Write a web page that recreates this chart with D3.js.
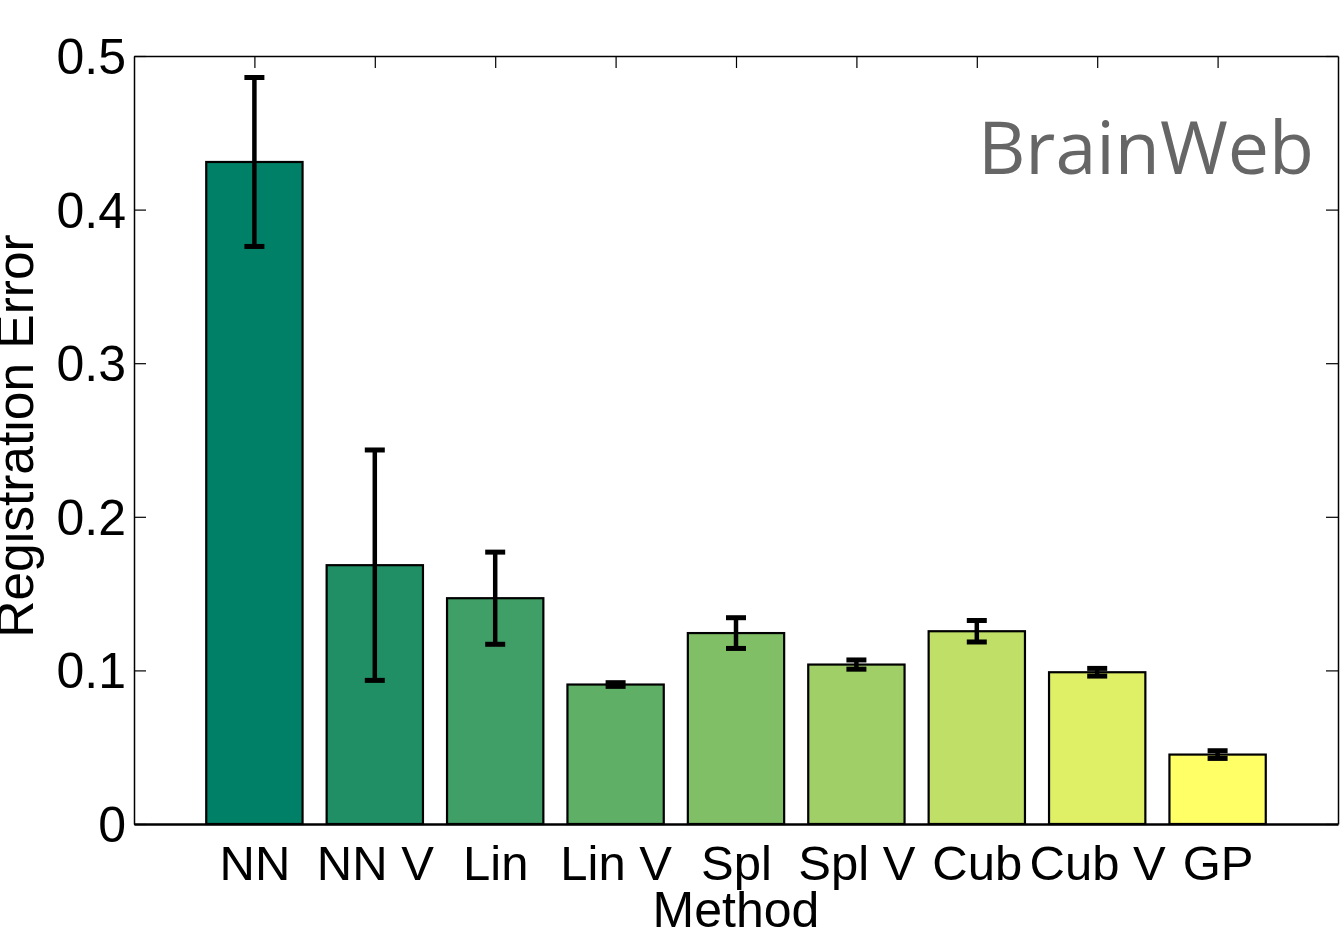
<!DOCTYPE html>
<html>
<head>
    <script src="https://d3js.org/d3.v7.min.js"></script>
    <style>
        body { margin: 0; background: #fff; }
        text { font-family: "Liberation Sans", Arial, sans-serif; }
    </style>
</head>
<body>
    <svg width="1342" height="928"></svg>
    <script>
    // data
    var methods = ["NN", "NN V", "Lin", "Lin V", "Spl", "Spl V", "Cub", "Cub V", "GP"];
    var errors  = [0.431, 0.1685, 0.147, 0.0908, 0.1243, 0.1038, 0.1255, 0.0988, 0.0452];
    var spread  = [0.055, 0.075, 0.030, 0.0012, 0.010, 0.003, 0.007, 0.0025, 0.0025];
    var yTicks  = [0, 0.1, 0.2, 0.3, 0.4, 0.5];

    var svg = d3.select("svg");
    // plot box (note: "top" is reserved on window, so use pl/pr/pt/pb)
    var pl = 134, pr = 1338, pt = 56, pb = 824;

    var x = d3.scaleLinear().domain([0, methods.length + 1]).range([pl, pr]);
    var y = d3.scaleLinear().domain([0, 0.5]).range([pb, pt]);
    // matlab summer colormap
    var color = function(i){
        var t = i / (methods.length - 1);
        return d3.rgb(255 * t, 255 * (0.5 + t / 2), 102);
    };
    var barW = x(0.8) - x(0);

    // axes box with inward ticks
    var gx = svg.append("g").attr("transform", "translate(0," + pb + ")")
        .call(d3.axisBottom(x).tickValues(d3.range(1, methods.length + 1))
            .tickSizeInner(-12).tickSizeOuter(0).tickFormat(function(d){ return methods[d - 1]; }));
    gx.select(".domain").attr("stroke-width", 2.5);
    gx.selectAll("text").attr("font-size", 49).attr("fill", "#000").attr("dy", 0).attr("y", 56);

    var gTop = svg.append("g").attr("transform", "translate(0," + pt + ")")
        .call(d3.axisTop(x).tickValues(d3.range(1, methods.length + 1))
            .tickSizeInner(-12).tickSizeOuter(0).tickFormat(""));
    gTop.select(".domain").attr("stroke-width", 1.5);

    var gy = svg.append("g").attr("transform", "translate(" + pl + ",0)")
        .call(d3.axisLeft(y).tickValues(yTicks).tickSizeInner(-12).tickSizeOuter(0)
            .tickFormat(d3.format("")));
    gy.select(".domain").attr("stroke-width", 1.5);
    gy.selectAll("text").attr("font-size", 50).attr("fill", "#000").attr("dy", "0.35em").attr("x", -8);

    var gR = svg.append("g").attr("transform", "translate(" + pr + ",0)")
        .call(d3.axisRight(y).tickValues(yTicks).tickSizeInner(-12).tickSizeOuter(0).tickFormat(""));
    gR.select(".domain").attr("stroke-width", 1.5);
    svg.selectAll(".tick line").attr("stroke-width", 1.2);

    // bars
    svg.selectAll("rect.bar").data(errors).join("rect").attr("class", "bar")
        .attr("x", function(d, i){ return x(i + 1) - barW / 2; })
        .attr("width", barW)
        .attr("y", function(d){ return y(d); })
        .attr("height", function(d){ return y(0) - y(d); })
        .attr("fill", function(d, i){ return color(i); })
        .attr("stroke", "#000").attr("stroke-width", 2.2);

    // error bars
    var eb = svg.selectAll("g.err").data(errors).join("g").attr("class", "err")
        .attr("stroke", "#000");
    eb.append("line")
        .attr("x1", function(d, i){ return x(i + 1); })
        .attr("x2", function(d, i){ return x(i + 1); })
        .attr("y1", function(d, i){ return y(d + spread[i]); })
        .attr("y2", function(d, i){ return y(d - spread[i]); })
        .attr("stroke-width", 4.5);
    [1, -1].forEach(function(s){
        eb.append("line")
            .attr("x1", function(d, i){ return x(i + 1) - 10; })
            .attr("x2", function(d, i){ return x(i + 1) + 10; })
            .attr("y1", function(d, i){ return y(d + s * spread[i]); })
            .attr("y2", function(d, i){ return y(d + s * spread[i]); })
            .attr("stroke-width", 5);
    });

    // labels
    svg.append("text").attr("x", (pl + pr) / 2).attr("y", 927)
        .attr("text-anchor", "middle").attr("font-size", 50).text("Method");
    svg.append("text").attr("transform", "translate(33," + ((pt + pb) / 2 - 4) + ") rotate(-90)")
        .attr("text-anchor", "middle").attr("font-size", 51.5).text("Registration Error");
    svg.append("text").attr("x", 1314).attr("y", 174).attr("text-anchor", "end")
        .style("font-family", "'Open Sans', sans-serif").attr("font-size", 73.5)
        .attr("fill", "#666").text("BrainWeb");
    </script>
</body>
</html>
